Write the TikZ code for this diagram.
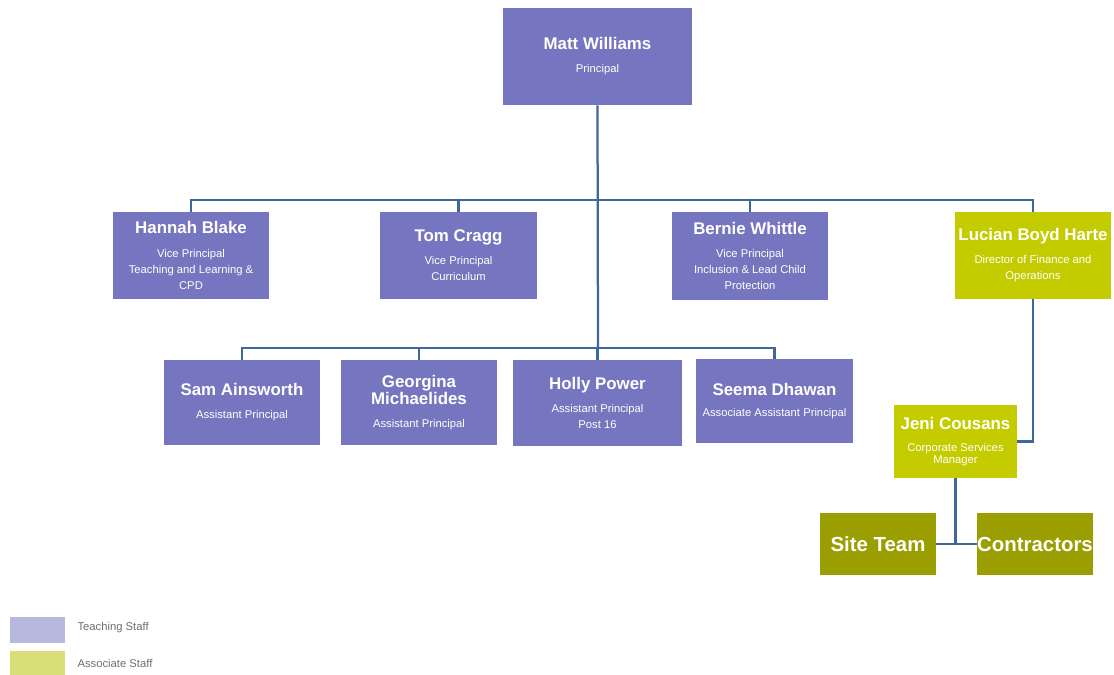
\documentclass[tikz,border=0pt]{standalone}
\usepackage{fontspec}
\setmainfont{Liberation Sans}
\usepackage{xcolor}
\usetikzlibrary{positioning}
\definecolor{staffpurple}{RGB}{118,118,192}
\definecolor{assocgreen}{RGB}{196,204,0}
\definecolor{siteolive}{RGB}{154,158,0}
\definecolor{linkblue}{RGB}{62,104,154}
\definecolor{keypurple}{RGB}{184,184,222}
\definecolor{keygreen}{RGB}{218,222,120}
\definecolor{keytext}{RGB}{110,110,110}
\newcommand{\pname}[1]{{\fontsize{12}{13}\selectfont\bfseries #1}}

\begin{document}
\begin{tikzpicture}[x=0.025cm, y=-0.025cm,
		staffbox/.style={rectangle, fill=staffpurple, text=white, inner sep=0pt, align=center, font=\fontsize{8}{11.4}\selectfont},
		vpbox/.style={staffbox, minimum width=3.9cm, minimum height=2.15cm},
		apbox/.style={staffbox, minimum width=3.9cm, minimum height=2.125cm},
		assocbox/.style={staffbox, fill=assocgreen},
		sitebox/.style={rectangle, fill=siteolive, text=white, inner sep=0pt, minimum width=2.9cm, minimum height=1.55cm, font=\fontsize{14.5}{16}\selectfont\bfseries},
		link/.style={draw=linkblue, line width=1.6pt},
		keybox/.style={rectangle, inner sep=0pt, minimum width=1.375cm, minimum height=0.65cm},
		keylabel/.style={text=keytext, inner sep=0pt, font=\fontsize{8}{9}\selectfont}]
	\useasboundingbox (0,0) rectangle (1114,675);
	
	% principal
	\node[staffbox, minimum width=4.725cm, minimum height=2.425cm] (matt) at (597.5,56.5) {\pname{Matt Williams}\\[5pt]Principal};
	
	% vice principals and finance
	\node[vpbox] (hannah) at (191,255.5) {\pname{Hannah Blake}\\[5pt]Vice Principal\\Teaching and Learning \&\\CPD};
	\node[vpbox] (tom) at (458.5,255.5) {\pname{Tom Cragg}\\[5pt]Vice Principal\\Curriculum};
	\node[vpbox, minimum height=2.2cm] (bernie) at (750,256) {\pname{Bernie Whittle}\\[5pt]Vice Principal\\Inclusion \& Lead Child\\Protection};
	\node[vpbox, assocbox, inner sep=0pt] (lucian) at (1033,255.5) {\pname{Lucian Boyd Harte}\\[5pt]Director of Finance and\\Operations};
	
	% assistant principals
	\node[apbox] (sam) at (242,402.5) {\pname{Sam Ainsworth}\\[5pt]Assistant Principal};
	\node[apbox] (georgina) at (419,402.5) {\pname{Georgina}\\[1pt]\pname{Michaelides}\\[5pt]Assistant Principal};
	\node[apbox, minimum width=4.225cm] (holly) at (597.5,403) {\pname{Holly Power}\\[5pt]Assistant Principal\\Post 16};
	\node[apbox, minimum height=2.1cm] (seema) at (774.5,401) {\pname{Seema Dhawan}\\[4pt]Associate Assistant Principal};
	
	% associate staff
	\node[assocbox, minimum width=3.075cm, minimum height=1.825cm, font=\fontsize{8}{8.5}\selectfont] (jeni) at (955.5,441.5) {\pname{Jeni Cousans}\\[7pt]Corporate Services\\Manager};
	\node[sitebox] (site) at (878,544) {Site Team};
	\node[sitebox] (contractors) at (1035,544) {Contractors};
	
	\coordinate (bus1) at (598,200);
	\coordinate (bus2) at (598,348);
	
	\draw[link] (matt.south) -- (bus2);
	\draw[link] (hannah.north) |- (bus1) -| (lucian.north);
	\draw[link] (tom.north) -- (tom.north |- bus1);
	\draw[link] (bernie.north) -- (bernie.north |- bus1);
	\draw[link] (sam.north) |- (bus2) -| (seema.north);
	\draw[link] (georgina.north) -- (georgina.north |- bus2);
	\draw[link] (holly.north) -- (holly.north |- bus2);
	\draw[link] (lucian.south) |- (jeni.east);
	\draw[link] (jeni.south) -- (jeni.south |- site.east);
	\draw[link] (site.east) -- (contractors.west);
	
	% key
	\node[keybox, fill=keypurple] (teachkey) at (37.5,630) {};
	\node[keybox, fill=keygreen] (assockey) at (37.5,664) {};
	\node[keylabel, right=0.3cm of teachkey, yshift=1.5pt] (teachlabel) {Teaching Staff};
	\node[keylabel, right=0.3cm of assockey, yshift=0.5pt] (assoclabel) {Associate Staff};
\end{tikzpicture}
\end{document}
